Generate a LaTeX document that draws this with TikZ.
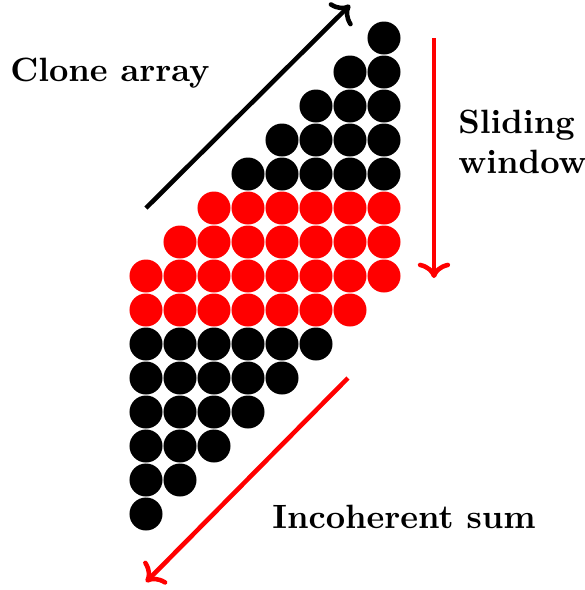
\documentclass[tikz,border=0pt]{standalone}
\usepackage{tikz}
\usetikzlibrary{arrows.meta}

\begin{document}
\begin{tikzpicture}[
  x=10.09pt, y=10.09pt,
  dot/.style={circle, inner sep=0pt, minimum size=9.8pt, draw=none},
  arrow/.style={->, line width=1.35pt},
  caption/.style={font=\bfseries, align=left}
]
\useasboundingbox (-4.294,-2.235) rectangle (12.912,15.118);
% clone array, rows counted from the top
\foreach \r in {0,...,14}{
  \pgfmathtruncatemacro\first{\r<8 ? 7-\r : 0}
  \pgfmathtruncatemacro\last{\r<8 ? 7 : 14-\r}
  \pgfmathtruncatemacro\hot{(\r>4)&&(\r<9)}
  \foreach \c in {\first,...,\last}{
    \ifnum\hot=1 \def\dotcol{red}\else\def\dotcol{black}\fi
    \node[dot, fill=\dotcol] (d-\r-\c) at (\c,14-\r) {};
  }
}
\coordinate (clonestart) at (0,9);
\coordinate (cloneend) at (6,14.97);
\coordinate (slidestart) at (8.47,14);
\coordinate (slideend) at (8.47,6.94);
\coordinate (sumstart) at (5.94,4);
\coordinate (sumend) at (0,-2);
\draw[arrow] (clonestart) -- (cloneend);
\draw[arrow, red] (slidestart) -- (slideend);
\draw[arrow, red] (sumstart) -- (sumend);
\node[caption] (clone) at (-1.06,12.97) {Clone array};
\node[caption, anchor=west] (slide) at (8.84,10.95) {Sliding\\window};
\node[caption] (sum) at (7.59,-0.09) {Incoherent sum};
\end{tikzpicture}
\end{document}
